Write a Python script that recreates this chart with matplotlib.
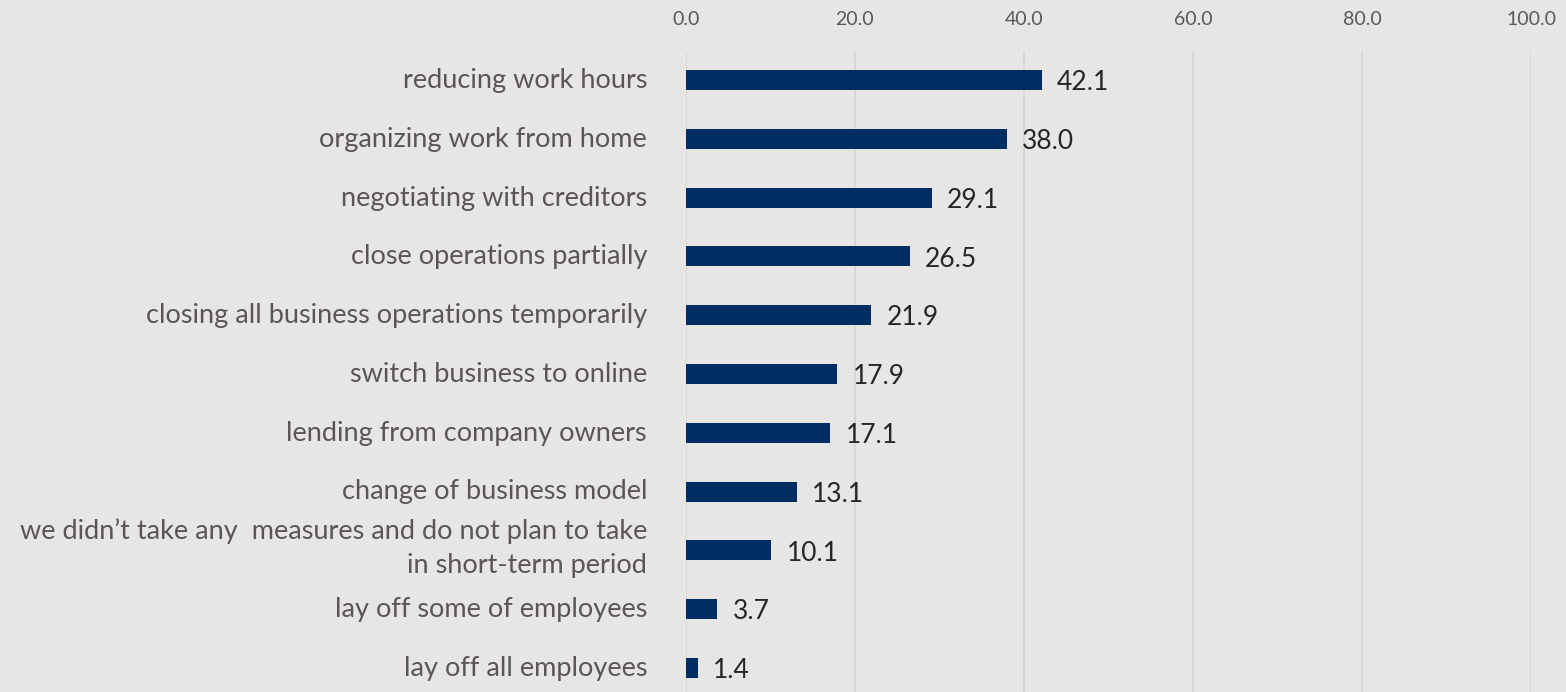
import matplotlib
matplotlib.use('Agg')
import matplotlib.pyplot as plt
from matplotlib.transforms import ScaledTranslation

# survey results: measures taken by companies, % of respondents
measures = [
    'reducing work hours',
    'organizing work from home',
    'negotiating with creditors',
    'close operations partially',
    'closing all business operations temporarily',
    'switch business to online',
    'lending from company owners',
    'change of business model',
    'we didn\u2019t take any  measures and do not plan to take\nin short-term period',
    'lay off some of employees',
    'lay off all employees',
]
shares = [42.1, 38.0, 29.1, 26.5, 21.9, 17.9, 17.1, 13.1, 10.1, 3.7, 1.4]
x_ticks = [0, 20, 40, 60, 80, 100]

BG = '#e7e6e5'
BAR = '#002d62'

plt.rcParams['font.family'] = ['Lato', 'DejaVu Sans']

fig = plt.figure(figsize=(15.66, 6.92), dpi=100, facecolor=BG)
ax = fig.add_axes([0.438, 0.0, 0.9777 - 0.438, 0.926], facecolor=BG)

pos = list(range(len(measures)))
ax.barh(pos, shares, height=0.34, color=BAR, zorder=3)

for p, v in zip(pos, shares):
    ax.annotate('%.1f' % v, xy=(v, p), xytext=(11, -2), textcoords='offset points',
                ha='left', va='center', fontsize=19, color='#262626')

ax.set_xlim(0, 100)
ax.set_ylim(10.41, -0.49)
ax.set_xticks(x_ticks)
ax.set_xticklabels(['%.1f' % t for t in x_ticks])
ax.xaxis.tick_top()
ax.tick_params(axis='x', length=0, pad=17, labelsize=14, labelcolor='#595959')
ax.set_yticks(pos)
ax.set_yticklabels(measures, linespacing=1.45)
ax.tick_params(axis='y', length=0, pad=28, labelsize=19.5, labelcolor='#5a5656')

# nudge category labels up a little, the two-line one more
for lbl in ax.get_yticklabels():
    dy = 6.5 if '\n' in lbl.get_text() else 1.5
    lbl.set_transform(lbl.get_transform() + ScaledTranslation(0, dy / 72, fig.dpi_scale_trans))

ax.grid(axis='x', color='#d6d5d4', linewidth=1.2, zorder=0)
for s in ax.spines.values():
    s.set_visible(False)

fig.savefig('out.png', dpi=100, facecolor=BG)
